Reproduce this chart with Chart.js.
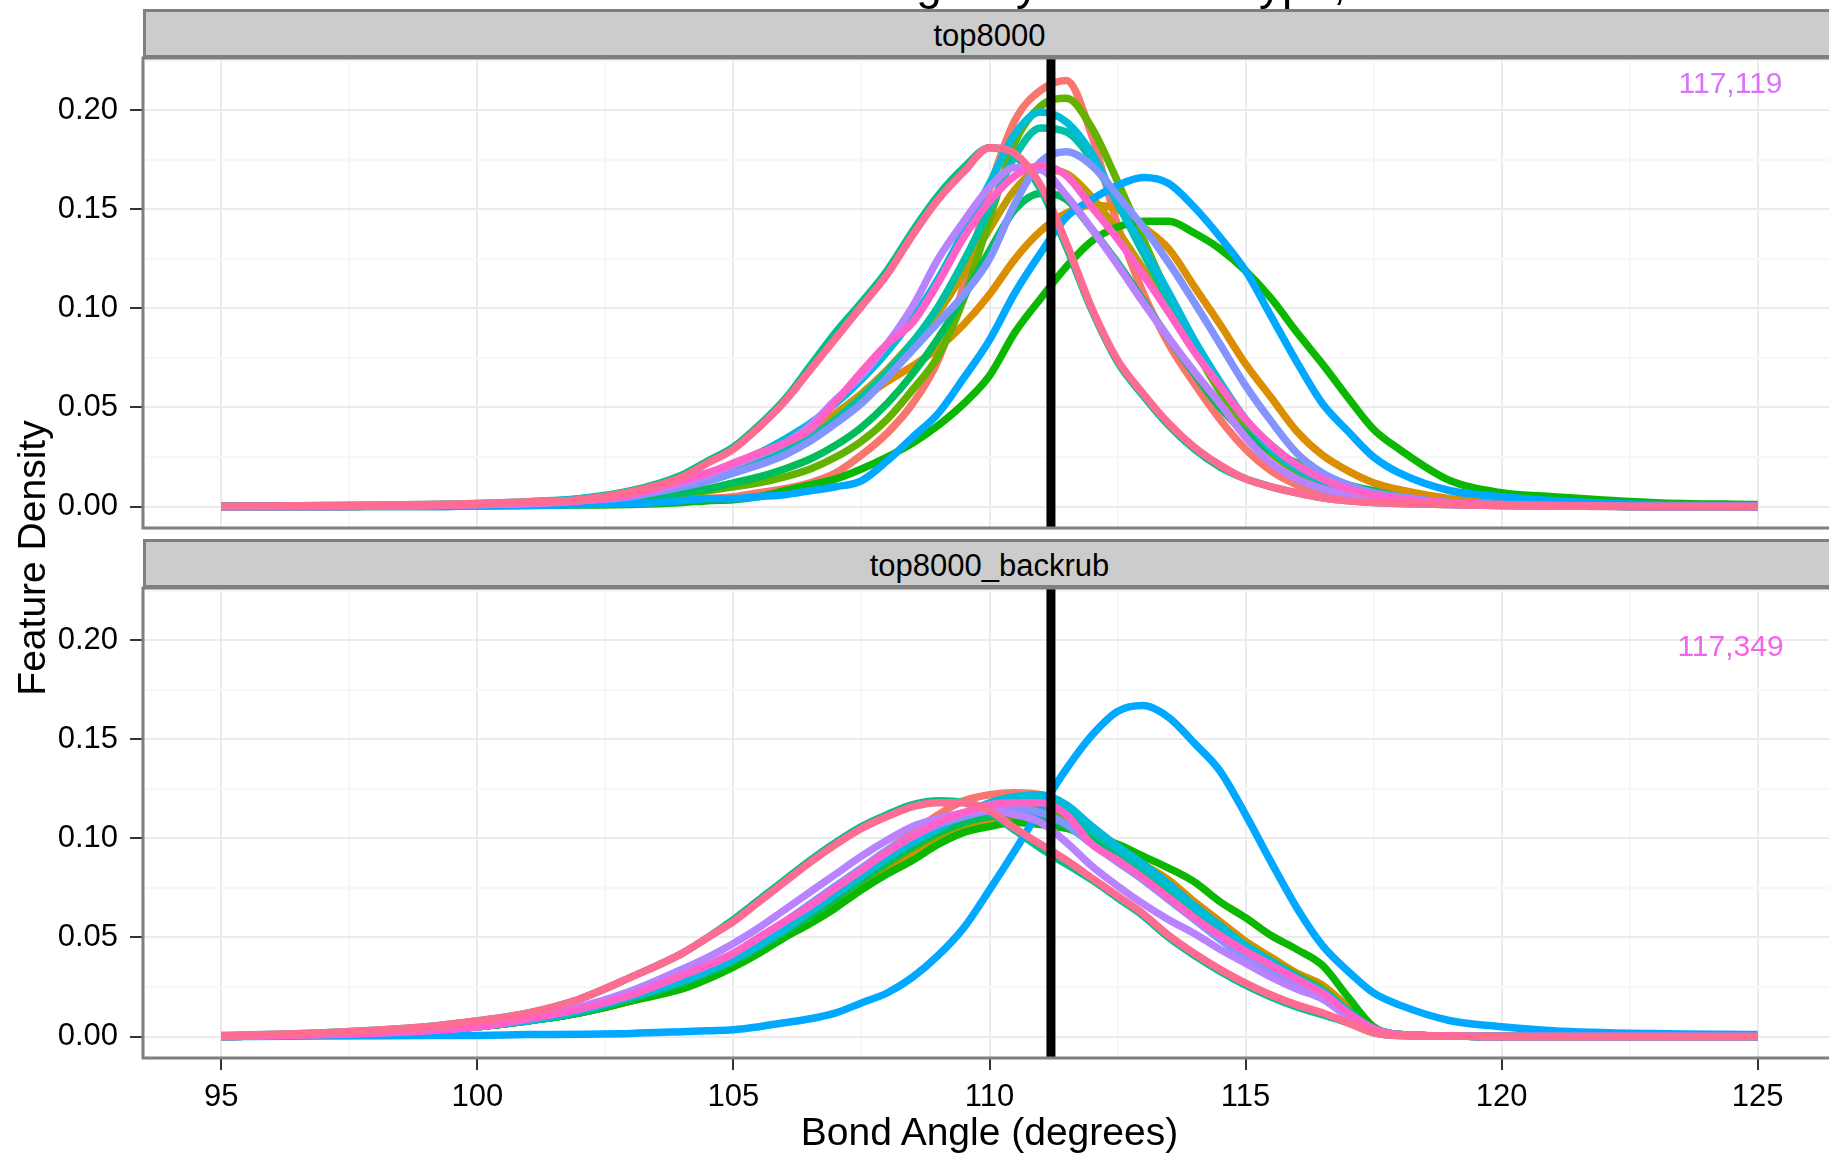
<!DOCTYPE html>
<html>
<head>
<meta charset="utf-8">
<script src="https://cdn.jsdelivr.net/npm/chart.js@4.4.1/dist/chart.umd.min.js"></script>
<style>
  body { margin: 0; background: #fff; overflow: hidden; }
  #wrap { position: relative; width: 1829px; height: 1155px; overflow: hidden; font-family: "Liberation Sans", Arial, Helvetica, sans-serif; }
  canvas { position: absolute; left: 0; }
  .strip { position: absolute; left: 143px; width: 1693px; height: 49px; box-sizing: border-box;
           background: #cccccc; border: 3px solid #7f7f7f; font-size: 31px; color: #000; padding-top: 4px;
           display: flex; align-items: center; justify-content: center; z-index: 2; }
  .axtitle { position: absolute; font-size: 39px; line-height: 46px; color: #000; text-align: center; white-space: nowrap; }
</style>
</head>
<body>
<div id="wrap">
  <canvas id="titleCanvas" width="1829" height="20" style="top:0"></canvas>
  <canvas id="topChart" width="1870" height="550" style="top:18px"></canvas>
  <canvas id="botChart" width="1870" height="607" style="top:548px"></canvas>
  <div class="strip" id="strip1" style="top:9px"></div>
  <div class="strip" id="strip2" style="top:539px"></div>
  <div class="axtitle" id="xTitle" style="left:143px; width:1693px; top:1109px"></div>
  <div class="axtitle" id="yTitle" style="left:-268px; top:535px; width:600px; transform:rotate(-90deg)"></div>
</div>
<script>
// text
const plotTitle = "N-CA-C Bond Angle by Residue Type, B-Factor < 30";
const xLabel = "Bond Angle (degrees)";
const yLabel = "Feature Density";
const panels = ["top8000", "top8000_backrub"];
const counts = ["117,119", "117,349"];
const countColors = ["#DB72FB", "#F066EA"];

// axes
const xTicks = [95, 100, 105, 110, 115, 120, 125];
const xMinor = [97.5, 102.5, 107.5, 112.5, 117.5, 122.5];
const yTicks = [0, 0.05, 0.10, 0.15, 0.20];
const yMinor = [0.025, 0.075, 0.125, 0.175, 0.225];
const meanAngle = 111.2;

// shared x grid of the density estimates
const angles = [95, 97, 99, 100, 101, 102, 103,
  104, 104.5, 105, 105.5, 106, 106.5, 107, 107.5,
  108, 108.5, 109, 109.5, 110, 110.5, 111, 111.5,
  112, 112.5, 113, 113.5, 114, 114.5, 115, 115.5,
  116, 116.5, 117, 117.5, 118,
  119, 120, 121, 123, 125];

const groupColors = ["#F8766D", "#DB8E00", "#C09B00", "#64B200", "#0CB702", "#00BD5C", "#00C08B",
  "#00C1A7", "#00BCD8", "#00A9FF", "#8494FF", "#B983FF", "#FF61C9", "#FF6C91"];

// top8000 panel
const salmonT = [0, 0, 0.0005, 0.001, 0.0012, 0.0015, 0.002,
  0.003, 0.004, 0.005, 0.007, 0.009, 0.012, 0.017, 0.026,
  0.037, 0.052, 0.074, 0.112, 0.160, 0.195, 0.210, 0.215,
  0.187, 0.142, 0.108, 0.082, 0.062, 0.044, 0.029, 0.018,
  0.011, 0.007, 0.004, 0.003, 0.002,
  0.001, 0.0005, 0.0003, 0, 0];
const orangeT = [0, 0, 0.0005, 0.001, 0.0015, 0.002, 0.006,
  0.012, 0.016, 0.021, 0.027, 0.032, 0.038, 0.045, 0.054,
  0.063, 0.071, 0.080, 0.092, 0.107, 0.125, 0.139, 0.148,
  0.152, 0.150, 0.141, 0.130, 0.111, 0.092, 0.072, 0.055,
  0.038, 0.026, 0.018, 0.012, 0.0085,
  0.004, 0.002, 0.001, 0.0005, 0];
const oliveT = [0, 0, 0.0005, 0.001, 0.0015, 0.003, 0.006,
  0.010, 0.014, 0.019, 0.025, 0.031, 0.038, 0.047, 0.057,
  0.069, 0.083, 0.098, 0.118, 0.140, 0.160, 0.170, 0.168,
  0.156, 0.139, 0.120, 0.100, 0.079, 0.060, 0.043, 0.030,
  0.020, 0.013, 0.008, 0.005, 0.003,
  0.0015, 0.001, 0.0005, 0, 0];
const limeT = [0, 0, 0.0005, 0.001, 0.0015, 0.0025, 0.004,
  0.006, 0.008, 0.010, 0.012, 0.015, 0.019, 0.025, 0.033,
  0.044, 0.059, 0.076, 0.105, 0.145, 0.184, 0.202, 0.206,
  0.191, 0.164, 0.135, 0.106, 0.080, 0.058, 0.040, 0.027,
  0.018, 0.012, 0.008, 0.005, 0.003,
  0.0015, 0.001, 0.0005, 0, 0];
const greenT = [0, 0, 0, 0.0003, 0.0005, 0.0008, 0.001,
  0.002, 0.003, 0.0035, 0.005, 0.008, 0.011, 0.014, 0.019,
  0.025, 0.032, 0.041, 0.052, 0.066, 0.088, 0.105, 0.121,
  0.134, 0.141, 0.144, 0.144, 0.138, 0.130, 0.119, 0.105,
  0.088, 0.072, 0.055, 0.039, 0.029,
  0.013, 0.007, 0.005, 0.002, 0.001];
const emeraldT = [0, 0, 0.0005, 0.001, 0.0015, 0.002, 0.004,
  0.007, 0.009, 0.012, 0.015, 0.019, 0.024, 0.031, 0.040,
  0.052, 0.067, 0.085, 0.106, 0.129, 0.150, 0.158, 0.155,
  0.140, 0.123, 0.104, 0.085, 0.067, 0.050, 0.037, 0.028,
  0.022, 0.016, 0.011, 0.008, 0.005,
  0.002, 0.001, 0.0005, 0, 0];
const jadeT = [0, 0.0005, 0.001, 0.0015, 0.0025, 0.004, 0.008,
  0.016, 0.023, 0.030, 0.041, 0.054, 0.071, 0.088, 0.103,
  0.119, 0.139, 0.157, 0.171, 0.181, 0.177, 0.160, 0.131,
  0.099, 0.073, 0.056, 0.041, 0.029, 0.020, 0.014, 0.010,
  0.007, 0.0045, 0.003, 0.002, 0.0015,
  0.001, 0.0005, 0.0003, 0, 0];
const tealT = [0, 0, 0.0005, 0.001, 0.002, 0.003, 0.006,
  0.010, 0.013, 0.017, 0.022, 0.028, 0.035, 0.044, 0.055,
  0.068, 0.083, 0.101, 0.124, 0.150, 0.177, 0.191, 0.189,
  0.175, 0.153, 0.128, 0.104, 0.081, 0.061, 0.044, 0.031,
  0.021, 0.014, 0.009, 0.006, 0.004,
  0.002, 0.001, 0.0005, 0, 0];
const cyanT = [0, 0, 0.0005, 0.001, 0.002, 0.004, 0.007,
  0.013, 0.017, 0.021, 0.027, 0.034, 0.042, 0.052, 0.064,
  0.078, 0.095, 0.115, 0.139, 0.163, 0.188, 0.199, 0.194,
  0.178, 0.153, 0.131, 0.108, 0.084, 0.063, 0.044, 0.029,
  0.019, 0.013, 0.008, 0.005, 0.003,
  0.0015, 0.001, 0.0005, 0, 0];
const blueT = [0, 0, 0, 0.0003, 0.0005, 0.001, 0.0015,
  0.003, 0.004, 0.004, 0.005, 0.006, 0.008, 0.010, 0.013,
  0.023, 0.035, 0.047, 0.065, 0.084, 0.108, 0.128, 0.146,
  0.155, 0.162, 0.166, 0.163, 0.151, 0.136, 0.119, 0.096,
  0.073, 0.052, 0.038, 0.025, 0.017,
  0.008, 0.005, 0.003, 0.001, 0.0005];
const lavenderT = [0, 0, 0.0005, 0.001, 0.0015, 0.003, 0.005,
  0.010, 0.013, 0.017, 0.021, 0.026, 0.033, 0.042, 0.052,
  0.065, 0.079, 0.093, 0.107, 0.125, 0.153, 0.174, 0.179,
  0.172, 0.157, 0.141, 0.123, 0.103, 0.082, 0.061, 0.043,
  0.027, 0.017, 0.011, 0.007, 0.005,
  0.002, 0.001, 0.0005, 0, 0];
const purpleT = [0, 0, 0.0005, 0.001, 0.0015, 0.003, 0.006,
  0.012, 0.016, 0.021, 0.026, 0.032, 0.041, 0.054, 0.066,
  0.082, 0.101, 0.125, 0.144, 0.161, 0.171, 0.170, 0.157,
  0.140, 0.122, 0.103, 0.085, 0.068, 0.052, 0.035, 0.022,
  0.014, 0.009, 0.006, 0.004, 0.003,
  0.001, 0.0005, 0.0003, 0, 0];
const magentaT = [0, 0, 0.0005, 0.001, 0.002, 0.003, 0.006,
  0.013, 0.017, 0.022, 0.027, 0.032, 0.039, 0.053, 0.068,
  0.082, 0.093, 0.113, 0.136, 0.154, 0.167, 0.172, 0.167,
  0.151, 0.135, 0.117, 0.098, 0.078, 0.061, 0.044, 0.031,
  0.021, 0.014, 0.009, 0.006, 0.004,
  0.002, 0.001, 0.0005, 0, 0];
const pinkT = [0, 0.0005, 0.001, 0.0015, 0.0025, 0.0035, 0.0075,
  0.015, 0.022, 0.029, 0.040, 0.053, 0.069, 0.085, 0.101,
  0.117, 0.137, 0.155, 0.169, 0.181, 0.178, 0.162, 0.133,
  0.100, 0.074, 0.057, 0.042, 0.030, 0.021, 0.014, 0.010,
  0.007, 0.0045, 0.003, 0.002, 0.0015,
  0.001, 0.0005, 0.0003, 0, 0];

// top8000_backrub panel
const salmonB = [0, 0.001, 0.003, 0.005, 0.008, 0.013, 0.020,
  0.029, 0.034, 0.040, 0.047, 0.055, 0.064, 0.074, 0.084,
  0.094, 0.103, 0.112, 0.119, 0.122, 0.123, 0.122, 0.116,
  0.106, 0.096, 0.087, 0.078, 0.068, 0.058, 0.048, 0.039,
  0.031, 0.024, 0.013, 0.004, 0.001,
  0.0003, 0, 0, 0, 0];
const orangeB = [0, 0.001, 0.003, 0.005, 0.008, 0.012, 0.018,
  0.026, 0.031, 0.036, 0.043, 0.051, 0.059, 0.067, 0.076,
  0.085, 0.092, 0.099, 0.104, 0.108, 0.111, 0.111, 0.109,
  0.102, 0.095, 0.087, 0.079, 0.068, 0.058, 0.048, 0.040,
  0.032, 0.026, 0.015, 0.004, 0.001,
  0.0003, 0, 0, 0, 0];
const oliveB = [0, 0.001, 0.003, 0.005, 0.008, 0.012, 0.018,
  0.026, 0.031, 0.037, 0.044, 0.052, 0.060, 0.069, 0.078,
  0.087, 0.095, 0.102, 0.107, 0.111, 0.113, 0.113, 0.108,
  0.100, 0.093, 0.085, 0.076, 0.066, 0.056, 0.047, 0.039,
  0.031, 0.025, 0.014, 0.004, 0.001,
  0.0003, 0, 0, 0, 0];
const limeB = [0, 0.001, 0.003, 0.005, 0.008, 0.012, 0.018,
  0.026, 0.031, 0.037, 0.044, 0.052, 0.060, 0.069, 0.078,
  0.087, 0.095, 0.102, 0.108, 0.113, 0.116, 0.116, 0.110,
  0.101, 0.093, 0.085, 0.075, 0.063, 0.054, 0.045, 0.038,
  0.031, 0.024, 0.013, 0.004, 0.001,
  0.0003, 0, 0, 0, 0];
const greenB = [0, 0.001, 0.003, 0.005, 0.008, 0.012, 0.018,
  0.024, 0.029, 0.035, 0.042, 0.050, 0.057, 0.065, 0.074,
  0.082, 0.089, 0.097, 0.103, 0.106, 0.108, 0.107, 0.105,
  0.101, 0.097, 0.091, 0.085, 0.078, 0.068, 0.060, 0.051,
  0.044, 0.036, 0.020, 0.005, 0.001,
  0.0003, 0, 0, 0, 0];
const emeraldB = [0, 0.001, 0.003, 0.005, 0.008, 0.012, 0.019,
  0.027, 0.032, 0.038, 0.045, 0.053, 0.061, 0.070, 0.079,
  0.088, 0.096, 0.103, 0.108, 0.111, 0.112, 0.111, 0.106,
  0.098, 0.090, 0.082, 0.073, 0.063, 0.054, 0.045, 0.037,
  0.030, 0.023, 0.013, 0.004, 0.001,
  0.0003, 0, 0, 0, 0];
const jadeB = [0.0005, 0.002, 0.005, 0.008, 0.012, 0.019, 0.030,
  0.042, 0.050, 0.059, 0.069, 0.079, 0.089, 0.098, 0.106,
  0.112, 0.117, 0.119, 0.118, 0.113, 0.104, 0.095, 0.087,
  0.079, 0.070, 0.061, 0.050, 0.041, 0.033, 0.026, 0.020,
  0.015, 0.011, 0.007, 0.002, 0.0005,
  0.0003, 0, 0, 0, 0];
const tealB = [0, 0.001, 0.003, 0.005, 0.008, 0.013, 0.020,
  0.029, 0.034, 0.040, 0.047, 0.055, 0.064, 0.073, 0.082,
  0.091, 0.099, 0.106, 0.112, 0.117, 0.119, 0.119, 0.113,
  0.103, 0.094, 0.085, 0.075, 0.064, 0.054, 0.045, 0.037,
  0.029, 0.022, 0.012, 0.004, 0.001,
  0.0003, 0, 0, 0, 0];
const cyanB = [0, 0.001, 0.003, 0.005, 0.008, 0.013, 0.020,
  0.028, 0.033, 0.039, 0.046, 0.054, 0.063, 0.072, 0.081,
  0.090, 0.098, 0.105, 0.112, 0.118, 0.121, 0.122, 0.117,
  0.106, 0.096, 0.087, 0.077, 0.066, 0.056, 0.046, 0.038,
  0.030, 0.023, 0.013, 0.004, 0.001,
  0.0003, 0, 0, 0, 0];
const blueB = [0, 0.0003, 0.0005, 0.0006, 0.001, 0.0012, 0.0016,
  0.0025, 0.003, 0.0035, 0.005, 0.007, 0.009, 0.012, 0.017,
  0.022, 0.030, 0.041, 0.055, 0.074, 0.094, 0.115, 0.135,
  0.152, 0.164, 0.167, 0.161, 0.148, 0.134, 0.112, 0.088,
  0.065, 0.046, 0.033, 0.022, 0.016,
  0.008, 0.005, 0.003, 0.0015, 0.001];
const lavenderB = [0, 0.001, 0.003, 0.005, 0.009, 0.014, 0.021,
  0.031, 0.036, 0.042, 0.050, 0.058, 0.067, 0.076, 0.085,
  0.094, 0.101, 0.107, 0.111, 0.114, 0.115, 0.113, 0.107,
  0.097, 0.088, 0.079, 0.069, 0.059, 0.049, 0.040, 0.033,
  0.026, 0.020, 0.011, 0.003, 0.001,
  0.0003, 0, 0, 0, 0];
const purpleB = [0, 0.0015, 0.004, 0.006, 0.010, 0.015, 0.023,
  0.034, 0.040, 0.047, 0.055, 0.064, 0.073, 0.082, 0.091,
  0.099, 0.106, 0.110, 0.113, 0.114, 0.112, 0.108, 0.098,
  0.086, 0.076, 0.067, 0.059, 0.052, 0.044, 0.037, 0.030,
  0.024, 0.019, 0.010, 0.003, 0.0005,
  0.0003, 0, 0, 0, 0];
const magentaB = [0, 0.001, 0.003, 0.005, 0.009, 0.014, 0.021,
  0.031, 0.036, 0.042, 0.050, 0.058, 0.066, 0.075, 0.084,
  0.093, 0.101, 0.108, 0.113, 0.117, 0.118, 0.118, 0.112,
  0.097, 0.089, 0.080, 0.070, 0.060, 0.051, 0.043, 0.036,
  0.029, 0.022, 0.012, 0.004, 0.001,
  0.0003, 0, 0, 0, 0];
const pinkB = [0.0005, 0.002, 0.005, 0.008, 0.012, 0.019, 0.030,
  0.042, 0.050, 0.058, 0.068, 0.078, 0.088, 0.097, 0.105,
  0.111, 0.116, 0.118, 0.118, 0.114, 0.105, 0.097, 0.089,
  0.080, 0.071, 0.062, 0.051, 0.042, 0.034, 0.027, 0.021,
  0.016, 0.012, 0.007, 0.002, 0.0005,
  0.0003, 0, 0, 0, 0];

const topSeries = [salmonT, orangeT, oliveT, limeT, greenT, emeraldT, jadeT,
  tealT, cyanT, blueT, lavenderT, purpleT, magentaT, pinkT];
const botSeries = [salmonB, orangeB, oliveB, limeB, greenB, emeraldB, jadeB,
  tealB, cyanB, blueB, lavenderB, purpleB, magentaB, pinkB];

const FONT = '"Liberation Sans", Arial, Helvetica, sans-serif';
Chart.defaults.font.family = FONT;

// labels outside the charts
document.getElementById("strip1").textContent = panels[0];
document.getElementById("strip2").textContent = panels[1];
document.getElementById("xTitle").textContent = xLabel;
document.getElementById("yTitle").textContent = yLabel;

// title is mostly cut off by the top edge, only descenders show
const tctx = document.getElementById("titleCanvas").getContext("2d");
tctx.font = "46px " + FONT;
tctx.fillStyle = "#000";
const prefix = plotTitle.slice(0, plotTitle.indexOf("Angle"));
tctx.fillText(plotTitle, 860 - tctx.measureText(prefix).width, -1.5);

const isIn = (arr, v) => arr.some(t => Math.abs(t - v) < 1e-9);

// panel border + count label
const panelDeco = {
  id: "panelDeco",
  afterDatasetsDraw(chart, args, opts) {
    const { ctx, chartArea: a, scales } = chart;
    ctx.save();
    ctx.font = "30px " + FONT;
    ctx.fillStyle = opts.color;
    ctx.textAlign = "center";
    ctx.textBaseline = "middle";
    ctx.fillText(opts.text, scales.x.getPixelForValue(124.47), scales.y.getPixelForValue(opts.y));
    ctx.strokeStyle = "#7f7f7f";
    ctx.lineWidth = 3;
    ctx.strokeRect(a.left, a.top, a.right - a.left, a.bottom - a.top);
    ctx.restore();
  }
};

function makeChart(id, series, idx, showX, labelY) {
  const datasets = series.map((vals, i) => ({
    data: angles.map((a, k) => ({ x: a, y: vals[k] })),
    borderColor: groupColors[i],
    borderWidth: 7.5,
    pointRadius: 0,
    fill: false,
    cubicInterpolationMode: "monotone",
    clip: 0,
    order: series.length - i + 1
  }));
  datasets.push({
    data: [{ x: meanAngle, y: -1 }, { x: meanAngle, y: 1 }],
    borderColor: "#000",
    borderWidth: 9,
    pointRadius: 0,
    clip: 0,
    order: 0
  });

  return new Chart(document.getElementById(id), {
    type: "line",
    data: { datasets },
    options: {
      responsive: false,
      animation: false,
      layout: { padding: { top: 40, right: 34, left: 0, bottom: 0 } },
      plugins: {
        legend: { display: false },
        tooltip: { enabled: false },
        panelDeco: { text: counts[idx], color: countColors[idx], y: labelY }
      },
      scales: {
        x: {
          type: "linear",
          min: 93.47,
          max: 126.53,
          afterBuildTicks: s => { s.ticks = xTicks.concat(xMinor).sort((a, b) => a - b).map(v => ({ value: v })); },
          afterFit: s => { s.height = showX ? 97 : 40; },
          border: { display: false },
          grid: {
            color: c => isIn(xTicks, c.tick.value) ? "#ebebeb" : "#f7f7f7",
            lineWidth: 2,
            drawTicks: showX,
            tickLength: 12,
            tickWidth: 2,
            tickColor: c => isIn(xTicks, c.tick.value) ? "#333" : "rgba(0,0,0,0)"
          },
          ticks: {
            display: showX,
            autoSkip: false,
            maxRotation: 0,
            padding: 9,
            color: "#000",
            font: { size: 31 },
            callback: v => isIn(xTicks, v) ? String(v) : ""
          }
        },
        y: {
          min: -0.0108,
          max: 0.2263,
          afterBuildTicks: s => { s.ticks = yTicks.concat(yMinor).sort((a, b) => a - b).map(v => ({ value: v })); },
          afterFit: s => { s.width = 143; },
          border: { display: false },
          grid: {
            color: c => isIn(yTicks, c.tick.value) ? "#ebebeb" : "#f7f7f7",
            lineWidth: 2,
            tickLength: 13,
            tickWidth: 2,
            tickColor: c => isIn(yTicks, c.tick.value) ? "#333" : "rgba(0,0,0,0)"
          },
          ticks: {
            autoSkip: false,
            padding: 12,
            color: "#000",
            font: { size: 31 },
            callback: v => isIn(yTicks, v) ? v.toFixed(2) : ""
          }
        }
      }
    },
    plugins: [panelDeco]
  });
}

makeChart("topChart", topSeries, 0, false, 0.213);
makeChart("botChart", botSeries, 1, true, 0.196);
</script>
</body>
</html>
